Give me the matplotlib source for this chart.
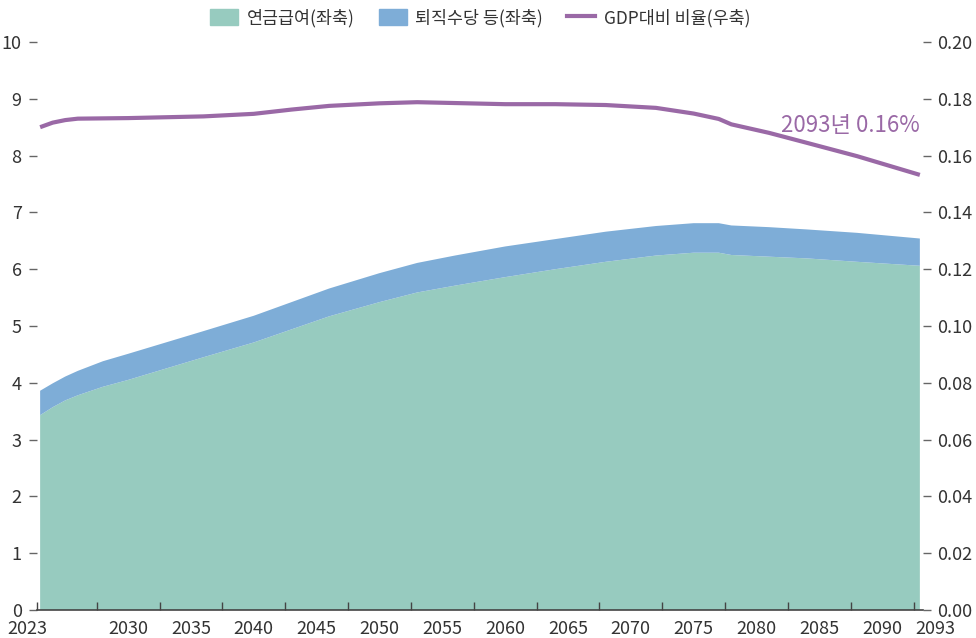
import matplotlib
matplotlib.use('Agg')
from matplotlib import pyplot as plt
from matplotlib.patches import Patch
from matplotlib.lines import Line2D
import matplotlib.transforms as mtransforms

plt.rcParams['font.family'] = ['Noto Sans CJK KR', 'DejaVu Sans']

years = [2023, 2024, 2025, 2026, 2028, 2030, 2033, 2036, 2040, 2043,
         2046, 2050, 2053, 2056, 2060, 2064, 2068, 2072, 2075, 2077,
         2078, 2081, 2084, 2088, 2093]
# 연금급여 (left axis)
pension = [3.43, 3.57, 3.69, 3.78, 3.93, 4.05, 4.25, 4.45, 4.71, 4.94,
           5.17, 5.42, 5.59, 5.71, 5.86, 6.00, 6.13, 6.24, 6.29, 6.29,
           6.25, 6.22, 6.19, 6.13, 6.06]
# 퇴직수당 등 (left axis)
retire = [0.43, 0.42, 0.42, 0.43, 0.45, 0.46, 0.46, 0.46, 0.47, 0.48,
          0.49, 0.51, 0.52, 0.53, 0.54, 0.53, 0.53, 0.52, 0.52, 0.52,
          0.52, 0.52, 0.51, 0.51, 0.48]
# GDP대비 비율 (right axis)
gdp_ratio = [0.1700, 0.1716, 0.1725, 0.1730, 0.1731, 0.1732, 0.1735, 0.1738, 0.1747, 0.1762,
             0.1775, 0.1784, 0.1788, 0.1785, 0.1781, 0.1781, 0.1778, 0.1768, 0.1748, 0.1729,
             0.1710, 0.1680, 0.1645, 0.1598, 0.1532]

label_years = [2030, 2035, 2040, 2045, 2050, 2055, 2060, 2065, 2070, 2075, 2080, 2085, 2090]

c_green = '#97cbbf'
c_blue = '#7eadd7'
c_purple = '#9a69a6'
c_text = '#333333'

fig = plt.figure(figsize=(9.76, 6.38), dpi=100)
ax = fig.add_axes([0.0379, 0.0439, 0.9078, 0.8903])

ax.stackplot(years, pension, retire, colors=[c_green, c_blue], linewidth=0)
ax.set_xlim(2022.75, 2093.25)
ax.set_ylim(0, 10)
ax.set_yticks(range(0, 11))

ax2 = ax.twinx()
ax2.plot(years, gdp_ratio, color=c_purple, lw=3, solid_capstyle='butt')
ax2.set_ylim(0, 0.20)
ax2.set_yticks([i * 0.02 for i in range(11)])
ax2.set_yticklabels(['{:.2f}'.format(i * 0.02) for i in range(11)])
ax2.text(2093, 0.1705, '2093년 0.16%', color=c_purple, fontsize=16,
         fontweight='medium', ha='right', va='center')

for a in [ax, ax2]:
    for s in ['top', 'left', 'right']:
        a.spines[s].set_visible(False)
ax2.spines['bottom'].set_visible(False)
ax.spines['bottom'].set_color('#444444')
ax.spines['bottom'].set_linewidth(1.2)

ax.tick_params(axis='y', length=6, width=1, color='#666666', pad=5,
               labelsize=13, labelcolor=c_text)
ax2.tick_params(axis='y', length=6, width=1, color='#666666', pad=4,
                labelsize=13, labelcolor=c_text)

# x labels at years, tick marks between them
ax.set_xticks(label_years)
ax.set_xticklabels([str(y) for y in label_years])
ax.set_xticks([2022.75] + [2027.5 + 5 * i for i in range(14)], minor=True)
ax.tick_params(axis='x', which='major', length=0, pad=7, labelsize=13, labelcolor=c_text)
ax.tick_params(axis='x', which='minor', direction='in', length=6, width=1, color='#444444')
trans = mtransforms.blended_transform_factory(ax.transData, ax.transAxes)
ax.text(2022.0, -0.017, '2023', transform=trans, ha='center', va='top', fontsize=13, color=c_text)
ax.text(2094.2, -0.017, '2093', transform=trans, ha='center', va='top', fontsize=13, color=c_text)

handles = [Patch(color=c_green, label='연금급여(좌축)'),
           Patch(color=c_blue, label='퇴직수당 등(좌축)'),
           Line2D([0], [0], color=c_purple, lw=3, label='GDP대비 비율(우축)')]
fig.legend(handles=handles, loc='center', bbox_to_anchor=(0.492, 0.972), ncol=3,
           frameon=False, fontsize=12.5, handlelength=1.6, handleheight=1.0,
           columnspacing=1.4, handletextpad=0.5, labelcolor=c_text)

fig.savefig('out.png', dpi=100)
